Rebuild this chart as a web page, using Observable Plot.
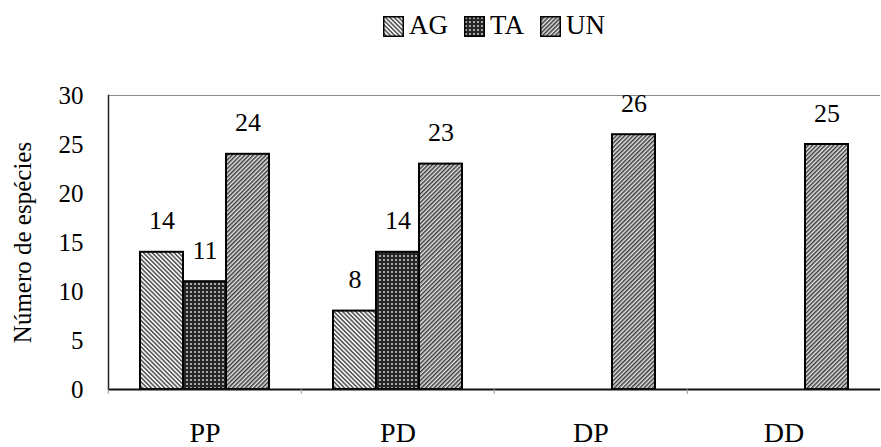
<!DOCTYPE html>
<html>
<head>
<meta charset="utf-8">
<script src="https://cdn.jsdelivr.net/npm/d3@7"></script>
<script src="https://cdn.jsdelivr.net/npm/@observablehq/plot@0.6"></script>
<style>
  html, body { margin: 0; background: #fff; }
  body { font-family: "Liberation Serif", serif; color: #000; }
  #legend {
    width: 881px; height: 50px; box-sizing: border-box; padding-left: 107px;
    display: flex; justify-content: center; align-items: center; gap: 16px;
    font-size: 27px; line-height: 1;
  }
  .item { display: flex; align-items: flex-end; gap: 5px; }
  .item svg { display: block; margin-bottom: 2px; }
  .item span { display: block; }
  #chart svg { display: block; }
</style>
</head>
<body>
<svg width="0" height="0" style="position:absolute">
  <defs>
    <!-- AG: fine back-slash hatching -->
    <pattern id="pat-ag" patternUnits="userSpaceOnUse" width="3.1" height="3.1" patternTransform="rotate(-45)">
      <rect width="3.1" height="3.1" fill="#f2f2f2"/>
      <rect width="1.4" height="3.1" fill="#4a4a4a"/>
    </pattern>
    <!-- TA: dark ground with a grid of light dots -->
    <pattern id="pat-ta" patternUnits="userSpaceOnUse" width="4" height="4">
      <rect width="4" height="4" fill="#262626"/>
      <rect x="1" y="1" width="2" height="2" fill="#a8a8a8"/>
    </pattern>
    <!-- UN: fine forward-slash hatching -->
    <pattern id="pat-un" patternUnits="userSpaceOnUse" width="3" height="3" patternTransform="rotate(45)">
      <rect width="3" height="3" fill="#e6e6e6"/>
      <rect width="1.5" height="3" fill="#3a3a3a"/>
    </pattern>
  </defs>
</svg>
<div id="legend"></div>
<div id="chart"></div>
<script>
// Species counts per site type and group
const categories = ["PP", "PD", "DP", "DD"];
const series = ["AG", "TA", "UN"];
const agValues = [14, 8, null, null];
const taValues = [11, 14, null, null];
const unValues = [24, 23, 26, 25];
const yTicks = [0, 5, 10, 15, 20, 25, 30];
const yLabel = "Número de espécies";

const serif = "'Liberation Serif', serif";
const fills = ["url(#pat-ag)", "url(#pat-ta)", "url(#pat-un)"];

const valuesBySeries = {AG: agValues, TA: taValues, UN: unValues};
const rows = [];
categories.forEach((c, i) => {
  series.forEach((s) => {
    const v = valuesBySeries[s][i];
    if (v != null) rows.push({category: c, series: s, value: v});
  });
});

// Legend
const legend = document.getElementById("legend");
series.forEach((s, i) => {
  const item = document.createElement("div");
  item.className = "item";
  item.innerHTML = `<svg width="21" height="21"><rect x="0.75" y="0.75" width="19.5" height="19.5" fill="${fills[i]}" stroke="#000" stroke-width="1.5"/></svg><span>${s}</span>`;
  legend.appendChild(item);
});

const width = 881, height = 397, marginLeft = 107, marginRight = 0;
const bandwidth = (width - marginLeft - marginRight) / categories.length;

const chart = Plot.plot({
  width, height, marginLeft, marginRight, marginTop: 45, marginBottom: 58,
  style: {fontFamily: serif, fontSize: "25px", color: "#000", background: "#fff"},
  fx: {domain: categories, padding: 0, axis: null},
  x: {domain: series, paddingInner: 0, paddingOuter: 0.73, axis: null},
  y: {domain: [0, 30], axis: null},
  color: {type: "ordinal", domain: series, range: fills},
  marks: [
    Plot.ruleY([30], {stroke: "#8c8c8c", strokeWidth: 1.2}),
    Plot.barY(rows, {fx: "category", x: "series", y: "value", fill: "series", stroke: "#000", strokeWidth: 2}),
    Plot.text(rows, {fx: "category", x: "series", y: "value", text: (d) => String(d.value), lineAnchor: "bottom", dy: -23, fontSize: 26, fontFamily: serif, fill: "#000"}),
    Plot.ruleY([0], {stroke: "#111", strokeWidth: 2}),
    Plot.frame({anchor: "left", facetAnchor: "left", stroke: "#222", strokeWidth: 1.5}),
    Plot.axisY({ticks: yTicks, tickSize: 0, tickPadding: 25, label: yLabel, labelArrow: "none", labelAnchor: "center", labelOffset: 95, fontSize: 25, fontFamily: serif}),
    Plot.axisFx({anchor: "bottom", tickSize: 0, tickPadding: 33, fontSize: 28, fontFamily: serif, label: null}),
    Plot.axisFx({anchor: "bottom", tickSize: 5, tickFormat: () => "", dx: -bandwidth / 2, label: null, stroke: "#999"})
  ]
});
document.getElementById("chart").appendChild(chart);
</script>
</body>
</html>
